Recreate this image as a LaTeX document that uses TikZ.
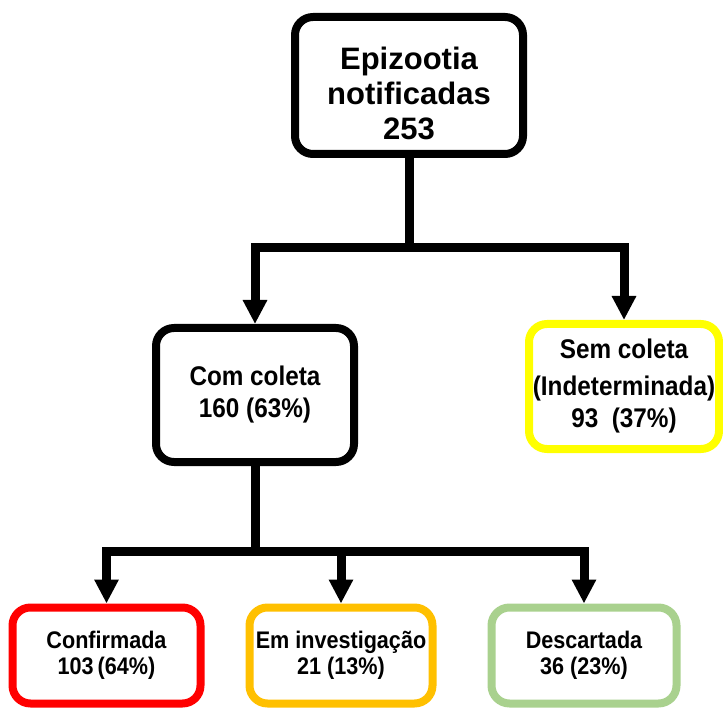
\documentclass[tikz,border=0pt]{standalone}
\usepackage{fontspec}
\setmainfont{Liberation Sans}
\newfontfamily\narrowsans[FakeStretch=0.9]{Liberation Sans}
\usetikzlibrary{arrows.meta, positioning}
\definecolor{boxyellow}{HTML}{FFFF00}
\definecolor{boxred}{HTML}{FF0000}
\definecolor{boxorange}{HTML}{FFC000}
\definecolor{boxgreen}{HTML}{A9D18E}
\tikzset{
  %% Rounded outcome box
  cbox/.style={
    rectangle, rounded corners=18pt,
    draw=#1, fill=white, line width=8pt,
    align=center, inner sep=2pt
  },
  cbox/.default=black,
  %% Connector
  conn/.style={draw=black, line width=9pt},
  arr/.style={conn, -{Triangle[length=24pt,width=23pt]}},
}

\begin{document}
\begin{tikzpicture}[x=1pt, y=-1pt,
                    midtext/.style={font=\narrowsans\fontsize{27}{32}\selectfont\bfseries},
                    lowtext/.style={font=\narrowsans\fontsize{24}{26}\selectfont\bfseries}]
  \useasboundingbox (0,0) rectangle (723,708);

  \node[cbox, minimum width=228pt, minimum height=137pt,
        font=\fontsize{31}{35}\selectfont\bfseries] (notif) at (409,85.5)
       {\parbox[c][125pt][c]{215pt}{\centering\vspace*{16pt}Epizootia\\notificadas\\253}};

  \node[cbox, midtext, minimum width=198pt, minimum height=134pt] (comcol) at (255,395)
       {Com coleta\\160 (63\%)};
  \node[cbox=boxyellow, midtext, minimum width=190pt, minimum height=125pt] (semcol) at (624,386.5)
       {Sem coleta\\[5pt](Indeterminada)\\93~~(37\%)};

  \node[cbox=boxred, lowtext, minimum width=188pt, minimum height=96pt] (conf) at (106.5,655.5)
       {Confirmada\\103\,(64\%)};
  \node[cbox=boxorange, lowtext, minimum width=183pt, minimum height=96pt] (invest) at (341,655.5)
       {Em investigação\\21 (13\%)};
  \node[cbox=boxgreen, lowtext, minimum width=185pt, minimum height=96pt] (desc) at (584,655.5)
       {Descartada\\36 (23\%)};

  %% Connectors
  \draw[conn] (notif.south) -- ++(0,90) coordinate (split1);
  \draw[arr] (split1) -| (comcol.north);
  \draw[arr] (split1) -| (semcol.north);

  \draw[conn] (comcol.south) -- ++(0,85) coordinate (split2);
  \draw[arr] (split2) -| (conf.north);
  \draw[arr] (split2) -| (invest.north);
  \draw[arr] (split2) -| (desc.north);

\end{tikzpicture}
\end{document}
